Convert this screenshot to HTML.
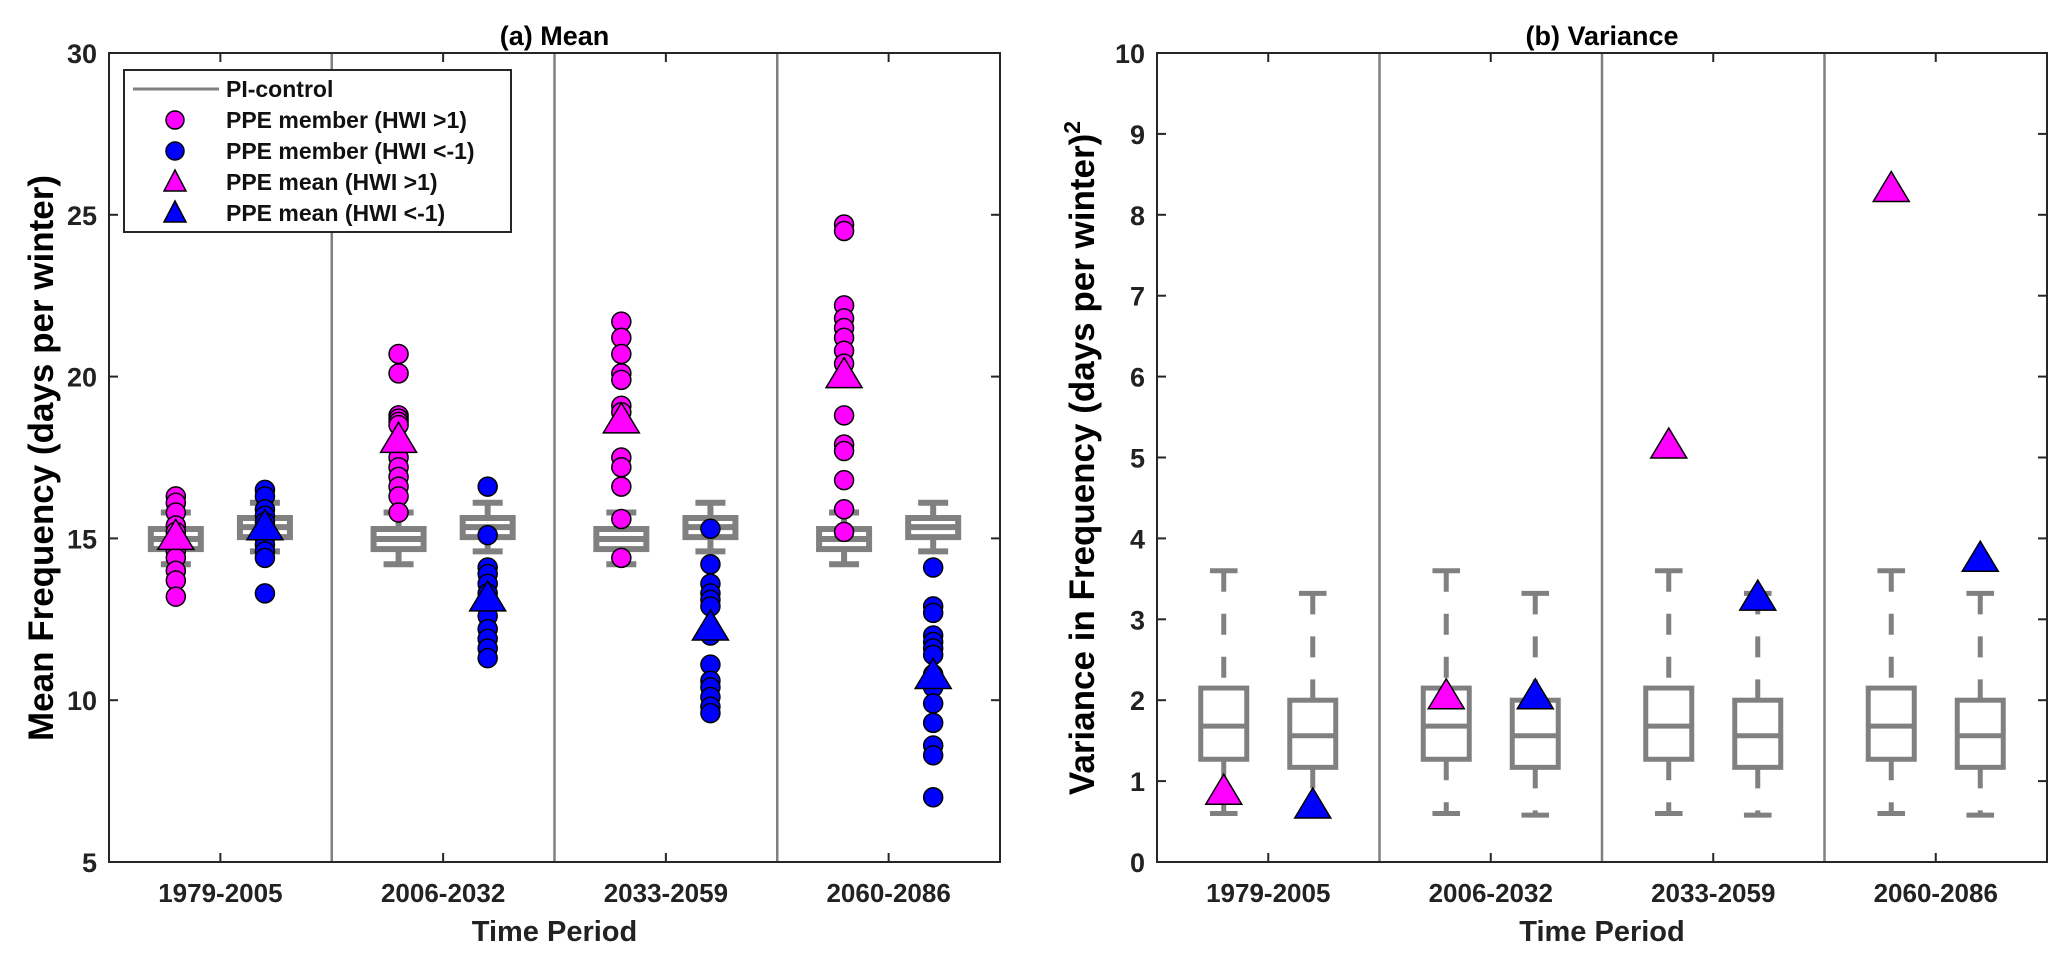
<!DOCTYPE html>
<html><head><meta charset="utf-8"><style>
html,body{margin:0;padding:0;background:#fff;}
svg{display:block;font-family:"Liberation Sans",Arial,sans-serif;font-weight:bold;}
</style></head><body>
<svg id="chart" width="2067" height="961" viewBox="0 0 2067 961" xmlns="http://www.w3.org/2000/svg"></svg>
<script>
const periods = ["1979-2005","2006-2032","2033-2059","2060-2086"];
const meanYTicks = [5,10,15,20,25,30];
const varYTicks = [0,1,2,3,4,5,6,7,8,9,10];
// PI-control box stats [whiskerLow, q1, median, q3, whiskerHigh]
const meanBoxPos = [14.2,14.67,14.98,15.29,15.8];
const meanBoxNeg = [14.6,15.04,15.35,15.63,16.1];
const varBoxPos = [0.6,1.27,1.68,2.15,3.6];
const varBoxNeg = [0.58,1.17,1.56,2.0,3.32];
// PPE members (mean frequency)
const memPos1 = [16.3,16.1,15.8,15.4,15.2,15.0,14.8,14.6,14.4,14.0,13.7,13.2];
const memNeg1 = [16.5,16.3,15.9,15.7,15.5,15.2,15.0,14.8,14.6,14.4,13.3];
const memPos2 = [20.7,20.1,18.8,18.7,18.6,18.5,17.5,17.2,16.9,16.6,16.3,15.8];
const memNeg2 = [16.6,15.1,14.1,13.9,13.6,13.3,12.6,12.2,11.9,11.6,11.3];
const memPos3 = [21.7,21.2,20.7,20.1,19.9,19.1,18.9,17.5,17.2,16.6,15.6,14.4];
const memNeg3 = [15.3,14.2,13.6,13.3,13.1,12.9,12.0,11.1,10.6,10.4,10.1,9.8,9.6];
const memPos4 = [24.7,24.5,22.2,21.8,21.5,21.2,20.8,20.4,18.8,17.9,17.7,16.8,15.9,15.2];
const memNeg4 = [14.1,12.9,12.7,12.0,11.8,11.6,11.4,10.8,10.4,9.9,9.3,8.6,8.3,7.0];
const meanPos = [15.0,18.0,18.6,20.0];
const meanNeg = [15.3,13.1,12.2,10.7];
const varPos = [0.85,2.03,5.13,8.3];
const varNeg = [0.68,2.03,3.25,3.73];

const NS="http://www.w3.org/2000/svg";
const svg=document.getElementById('chart');
function mk(tag,attrs,parent){const e=document.createElementNS(NS,tag);for(const k in attrs)e.setAttribute(k,attrs[k]);(parent||svg).appendChild(e);return e;}
function txt(s,attrs,parent){const e=mk('text',attrs,parent);e.textContent=s;return e;}

function panel(cfg){
  const g=mk('g',{});
  
  
  const L=cfg.x0,R=cfg.x1,T=53,B=862,gw=(R-L)/4;
  const y=v=>B-(v-cfg.ymin)/(cfg.ymax-cfg.ymin)*(B-T);
  const xc=i=>L+gw*(i+0.5);
  const off=gw*0.2;
  for(let i=1;i<4;i++){const d=mk('line',{x1:L+gw*i,x2:L+gw*i,y1:T,y2:B,stroke:'#808080','stroke-width':2.5},g);
    }
  function box(st,cx,dashed){
    const bg=mk('g',{},g);
    
    const w=cfg.boxW,c='#808080',sw=cfg.boxSW;
    const da=dashed?'21,22':'none';
    mk('line',{x1:cx,x2:cx,y1:y(st[4]),y2:y(st[3]),stroke:c,'stroke-width':sw,'stroke-dasharray':da},bg);
    mk('line',{x1:cx,x2:cx,y1:y(st[1]),y2:y(st[0]),stroke:c,'stroke-width':sw,'stroke-dasharray':da},bg);
    mk('line',{x1:cx-w*0.3,x2:cx+w*0.3,y1:y(st[4]),y2:y(st[4]),stroke:c,'stroke-width':sw},bg);
    mk('line',{x1:cx-w*0.3,x2:cx+w*0.3,y1:y(st[0]),y2:y(st[0]),stroke:c,'stroke-width':sw},bg);
    mk('rect',{x:cx-w/2,y:y(st[3]),width:w,height:y(st[1])-y(st[3]),fill:'none',stroke:c,'stroke-width':sw},bg);
    mk('line',{x1:cx-w/2,x2:cx+w/2,y1:y(st[2]),y2:y(st[2]),stroke:c,'stroke-width':sw},bg);
  }
  for(let i=0;i<4;i++){box(cfg.boxP,xc(i)-off,cfg.dashed);box(cfg.boxN,xc(i)+off,cfg.dashed);}
  if(cfg.mp){
    for(let i=0;i<4;i++){
      cfg.mp[i].forEach(v=>{const c=mk('circle',{cx:xc(i)-off,cy:y(v),r:9.5,fill:'#ff00ff',stroke:'#000','stroke-width':1.5},g);
        });
      cfg.mn[i].forEach(v=>{const c=mk('circle',{cx:xc(i)+off,cy:y(v),r:9.5,fill:'#0000ff',stroke:'#000','stroke-width':1.5},g);
        });
    }
  }
  function tri(cx,cy,fill,name){
    const p=mk('polygon',{points:`${cx},${cy-19} ${cx-18},${cy+11} ${cx+18},${cy+11}`,fill:fill,stroke:'#000','stroke-width':1.5},g);
    
  }
  for(let i=0;i<4;i++){tri(xc(i)-off,y(cfg.tp[i]),'#ff00ff','ppe-mean-pos');tri(xc(i)+off,y(cfg.tn[i]),'#0000ff','ppe-mean-neg');}
  const ax=mk('rect',{x:L,y:T,width:R-L,height:B-T,fill:'none',stroke:'#262626','stroke-width':2},g);
  
  cfg.yt.forEach(v=>{
    mk('line',{x1:L,x2:L+9,y1:y(v),y2:y(v),stroke:'#262626','stroke-width':2},g);
    mk('line',{x1:R,x2:R-9,y1:y(v),y2:y(v),stroke:'#262626','stroke-width':2},g);
    const t=txt(String(v),{x:L-12,y:y(v)+10,'text-anchor':'end','font-size':27,fill:'#222'},g);
    
  });
  periods.forEach((p,i)=>{
    mk('line',{x1:xc(i),x2:xc(i),y1:B,y2:B-9,stroke:'#262626','stroke-width':2},g);
    mk('line',{x1:xc(i),x2:xc(i),y1:T,y2:T+9,stroke:'#262626','stroke-width':2},g);
    const t=txt(p,{x:xc(i),y:902,'text-anchor':'middle','font-size':26,fill:'#222'},g);
    
  });
  const xt=txt('Time Period',{x:(L+R)/2,y:941,'text-anchor':'middle','font-size':29,fill:'#222'},g);
  
  const tt=txt(cfg.title,{x:(L+R)/2,y:45,'text-anchor':'middle','font-size':27,fill:'#000'},g);
  
  return {g,y};
}

panel({name:'panel-mean',x0:109,x1:1000,ymin:5,ymax:30,yt:meanYTicks,boxP:meanBoxPos,boxN:meanBoxNeg,boxW:50,boxSW:6,dashed:false,
  mp:[memPos1,memPos2,memPos3,memPos4],mn:[memNeg1,memNeg2,memNeg3,memNeg4],tp:meanPos,tn:meanNeg,title:'(a) Mean'});
panel({name:'panel-variance',x0:1157,x1:2047,ymin:0,ymax:10,yt:varYTicks,boxP:varBoxPos,boxN:varBoxNeg,boxW:46,boxSW:5,dashed:true,
  tp:varPos,tn:varNeg,title:'(b) Variance'});

const yl=txt('Mean Frequency (days per winter)',{x:0,y:0,transform:'translate(53,458) rotate(-90)','text-anchor':'middle','font-size':35,fill:'#000'});

const yr=mk('text',{transform:'translate(1094,458) rotate(-90)','text-anchor':'middle','font-size':35,fill:'#000'});

yr.appendChild(document.createTextNode('Variance in Frequency (days per winter)'));
const sup=mk('tspan',{dy:-14,'font-size':23},yr);sup.textContent='2';

const lg=mk('g',{});

mk('rect',{x:124,y:70,width:387,height:162,fill:'#fff',stroke:'#262626','stroke-width':2},lg);
const items=[['line','PI-control'],['c#ff00ff','PPE member (HWI >1)'],['c#0000ff','PPE member (HWI <-1)'],['t#ff00ff','PPE mean (HWI >1)'],['t#0000ff','PPE mean (HWI <-1)']];
items.forEach((it,i)=>{
  const cy=89+i*31;
  const e=mk('g',{},lg);
  
  if(it[0]==='line') mk('line',{x1:133,x2:219,y1:cy,y2:cy,stroke:'#808080','stroke-width':3},e);
  else if(it[0][0]==='c') mk('circle',{cx:175,cy:cy,r:9,fill:it[0].slice(1),stroke:'#000','stroke-width':1.5},e);
  else mk('polygon',{points:`175,${cy-12} 164,${cy+9} 186,${cy+9}`,fill:it[0].slice(1),stroke:'#000','stroke-width':1.5},e);
  txt(it[1],{x:226,y:cy+8,'font-size':23,fill:'#111'},e);
});
</script>
</body></html>
